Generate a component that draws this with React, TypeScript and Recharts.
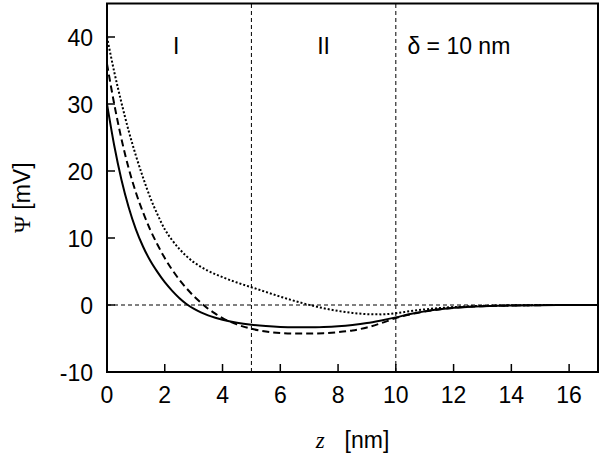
import React from "react";
import {
  LineChart,
  Line,
  XAxis,
  YAxis,
  ReferenceLine,
  ReferenceArea,
  ReferenceDot,
  Label,
} from "recharts";

const zValues = [
  0, 0.25, 0.5, 0.75, 1, 1.25, 1.5, 1.75, 2, 2.25, 2.5, 2.75, 3, 3.25, 3.5, 3.75,
  4, 4.5, 5, 5.5, 6, 6.5, 7, 7.5, 8, 8.5, 9, 9.5, 10, 10.5, 11, 11.5, 12, 12.5,
  13, 13.5, 14, 15, 16, 17,
];

const solidPsi = [
  30, 23.8, 18.7, 14.6, 11.3, 8.7, 6.6, 4.9, 3.4, 2.15, 1.05, 0.15, -0.55, -1.1,
  -1.55, -1.9, -2.2, -2.65, -2.95, -3.15, -3.28, -3.33, -3.33, -3.28, -3.17,
  -2.98, -2.7, -2.3, -1.85, -1.35, -0.95, -0.65, -0.42, -0.28, -0.18, -0.11,
  -0.07, -0.02, 0, 0,
];

const dashedPsi = [
  36, 30.0, 24.8, 20.4, 16.8, 13.8, 11.2, 9.0, 7.0, 5.3, 3.8, 2.5, 1.35, 0.35,
  -0.55, -1.3, -1.95, -2.9, -3.55, -3.95, -4.18, -4.27, -4.27, -4.2, -4.05,
  -3.8, -3.35, -2.7, -1.95, -1.4, -0.97, -0.66, -0.43, -0.28, -0.18, -0.11,
  -0.07, -0.02, 0, 0,
];

const dottedPsi = [
  40, 34.8, 30.2, 26.0, 22.3, 19.0, 16.0, 13.5, 11.3, 9.7, 8.4, 7.3, 6.4, 5.7,
  5.1, 4.6, 4.15, 3.35, 2.65, 1.95, 1.25, 0.6, 0.02, -0.48, -0.88, -1.18, -1.36,
  -1.4, -1.22, -0.92, -0.66, -0.46, -0.31, -0.2, -0.13, -0.08, -0.05, -0.01, 0, 0,
];

const xTicks = [0, 2, 4, 6, 8, 10, 12, 14, 16];
const yTicks = [-10, 0, 10, 20, 30, 40];
const regionBoundaries = [5, 10];
const regionLabels = [
  { z: 2.4, psi: 38.7, text: "I", anchor: "middle" },
  { z: 7.5, psi: 38.7, text: "II", anchor: "middle" },
  { z: 10.4, psi: 38.7, text: "δ = 10 nm", anchor: "start" },
];

const data = zValues.map((z, i) => ({
  z,
  solid: solidPsi[i],
  dashed: dashedPsi[i],
  dotted: dottedPsi[i],
}));

const SANS = "'Liberation Sans', Arial, Helvetica, sans-serif";
const SERIF = "'Liberation Serif', 'Times New Roman', serif";
const FS = 23;

const XTick = (props: any) => {
  const { x, y, payload } = props;
  return (
    <g>
      <line x1={x} x2={x} y1={y} y2={y - 8} stroke="#000" strokeWidth={1.5} />
      <text x={x} y={y + 31} textAnchor="middle" fontSize={FS} fontFamily={SANS} fill="#000">
        {payload.value}
      </text>
    </g>
  );
};

const YTick = (props: any) => {
  const { x, y, payload } = props;
  return (
    <g>
      <line x1={x} x2={x + 8} y1={y} y2={y} stroke="#000" strokeWidth={1.5} />
      <text x={x - 14} y={y + 9} textAnchor="end" fontSize={FS} fontFamily={SANS} fill="#000">
        {payload.value}
      </text>
    </g>
  );
};

const XLabel = (props: any) => {
  const vb = props.viewBox;
  const cx = vb.x + vb.width / 2;
  return (
    <text x={cx} y={vb.y + 76} textAnchor="middle" fontSize={FS} fill="#000">
      <tspan fontFamily={SERIF} fontStyle="italic">z</tspan>
      <tspan fontFamily={SANS} dx={20}>[nm]</tspan>
    </text>
  );
};

const YLabel = (props: any) => {
  const vb = props.viewBox;
  const cx = 22;
  const cy = vb.y + vb.height / 2 + 10;
  return (
    <text
      x={cx}
      y={cy}
      transform={`rotate(-90 ${cx} ${cy})`}
      textAnchor="middle"
      dominantBaseline="central"
      fontSize={FS}
      fill="#000"
    >
      <tspan fontFamily={SERIF}>Ψ</tspan>
      <tspan fontFamily={SANS}> [mV]</tspan>
    </text>
  );
};

export default function App() {
  return (
    <div style={{ position: "absolute", left: 0, top: 0, width: 600, height: 466, background: "#fff" }}>
      <LineChart
        width={600}
        height={466}
        data={data}
        margin={{ top: 3.5, right: 2, bottom: 0, left: 0 }}
      >
        <XAxis
          dataKey="z"
          type="number"
          domain={[0, 17]}
          ticks={xTicks}
          allowDataOverflow
          height={94}
          tickSize={0}
          tickMargin={0}
          tickLine={false}
          tick={<XTick />}
          axisLine={{ stroke: "#000", strokeWidth: 2 }}
          interval={0}
        >
          <Label content={<XLabel />} />
        </XAxis>
        <YAxis
          type="number"
          domain={[-10, 45]}
          ticks={yTicks}
          allowDataOverflow
          width={107}
          tickSize={0}
          tickMargin={0}
          tickLine={false}
          tick={<YTick />}
          axisLine={{ stroke: "#000", strokeWidth: 2 }}
          interval={0}
        >
          <Label content={<YLabel />} />
        </YAxis>
        <ReferenceArea
          x1={0}
          x2={17}
          y1={-10}
          y2={45}
          fill="none"
          stroke="#000"
          strokeWidth={2}
          ifOverflow="visible"
        />
        <ReferenceLine y={0} stroke="#000" strokeWidth={1} strokeDasharray="4 3" />
        {regionBoundaries.map((b) => (
          <ReferenceLine key={b} x={b} stroke="#000" strokeWidth={1} strokeDasharray="4 3" />
        ))}
        {regionLabels.map((r) => (
          <ReferenceDot
            key={r.text}
            x={r.z}
            y={r.psi}
            r={0}
            fill="none"
            stroke="none"
            label={(p: any) => {
              const vb = p.viewBox;
              const cx = vb.x + (vb.width || 0) / 2;
              const cy = vb.y + (vb.height || 0) / 2;
              return (
                <text
                  x={cx}
                  y={cy + 8}
                  textAnchor={r.anchor}
                  fontSize={FS}
                  fontFamily={SANS}
                  fill="#000"
                >
                  {r.text}
                </text>
              );
            }}
          />
        ))}
        <Line
          type="monotone"
          dataKey="dotted"
          stroke="#000"
          strokeWidth={2}
          strokeDasharray="2 2"
          dot={false}
          isAnimationActive={false}
        />
        <Line
          type="monotone"
          dataKey="dashed"
          stroke="#000"
          strokeWidth={2}
          strokeDasharray="7 4"
          dot={false}
          isAnimationActive={false}
        />
        <Line
          type="monotone"
          dataKey="solid"
          stroke="#000"
          strokeWidth={2}
          dot={false}
          isAnimationActive={false}
        />
      </LineChart>
    </div>
  );
}
